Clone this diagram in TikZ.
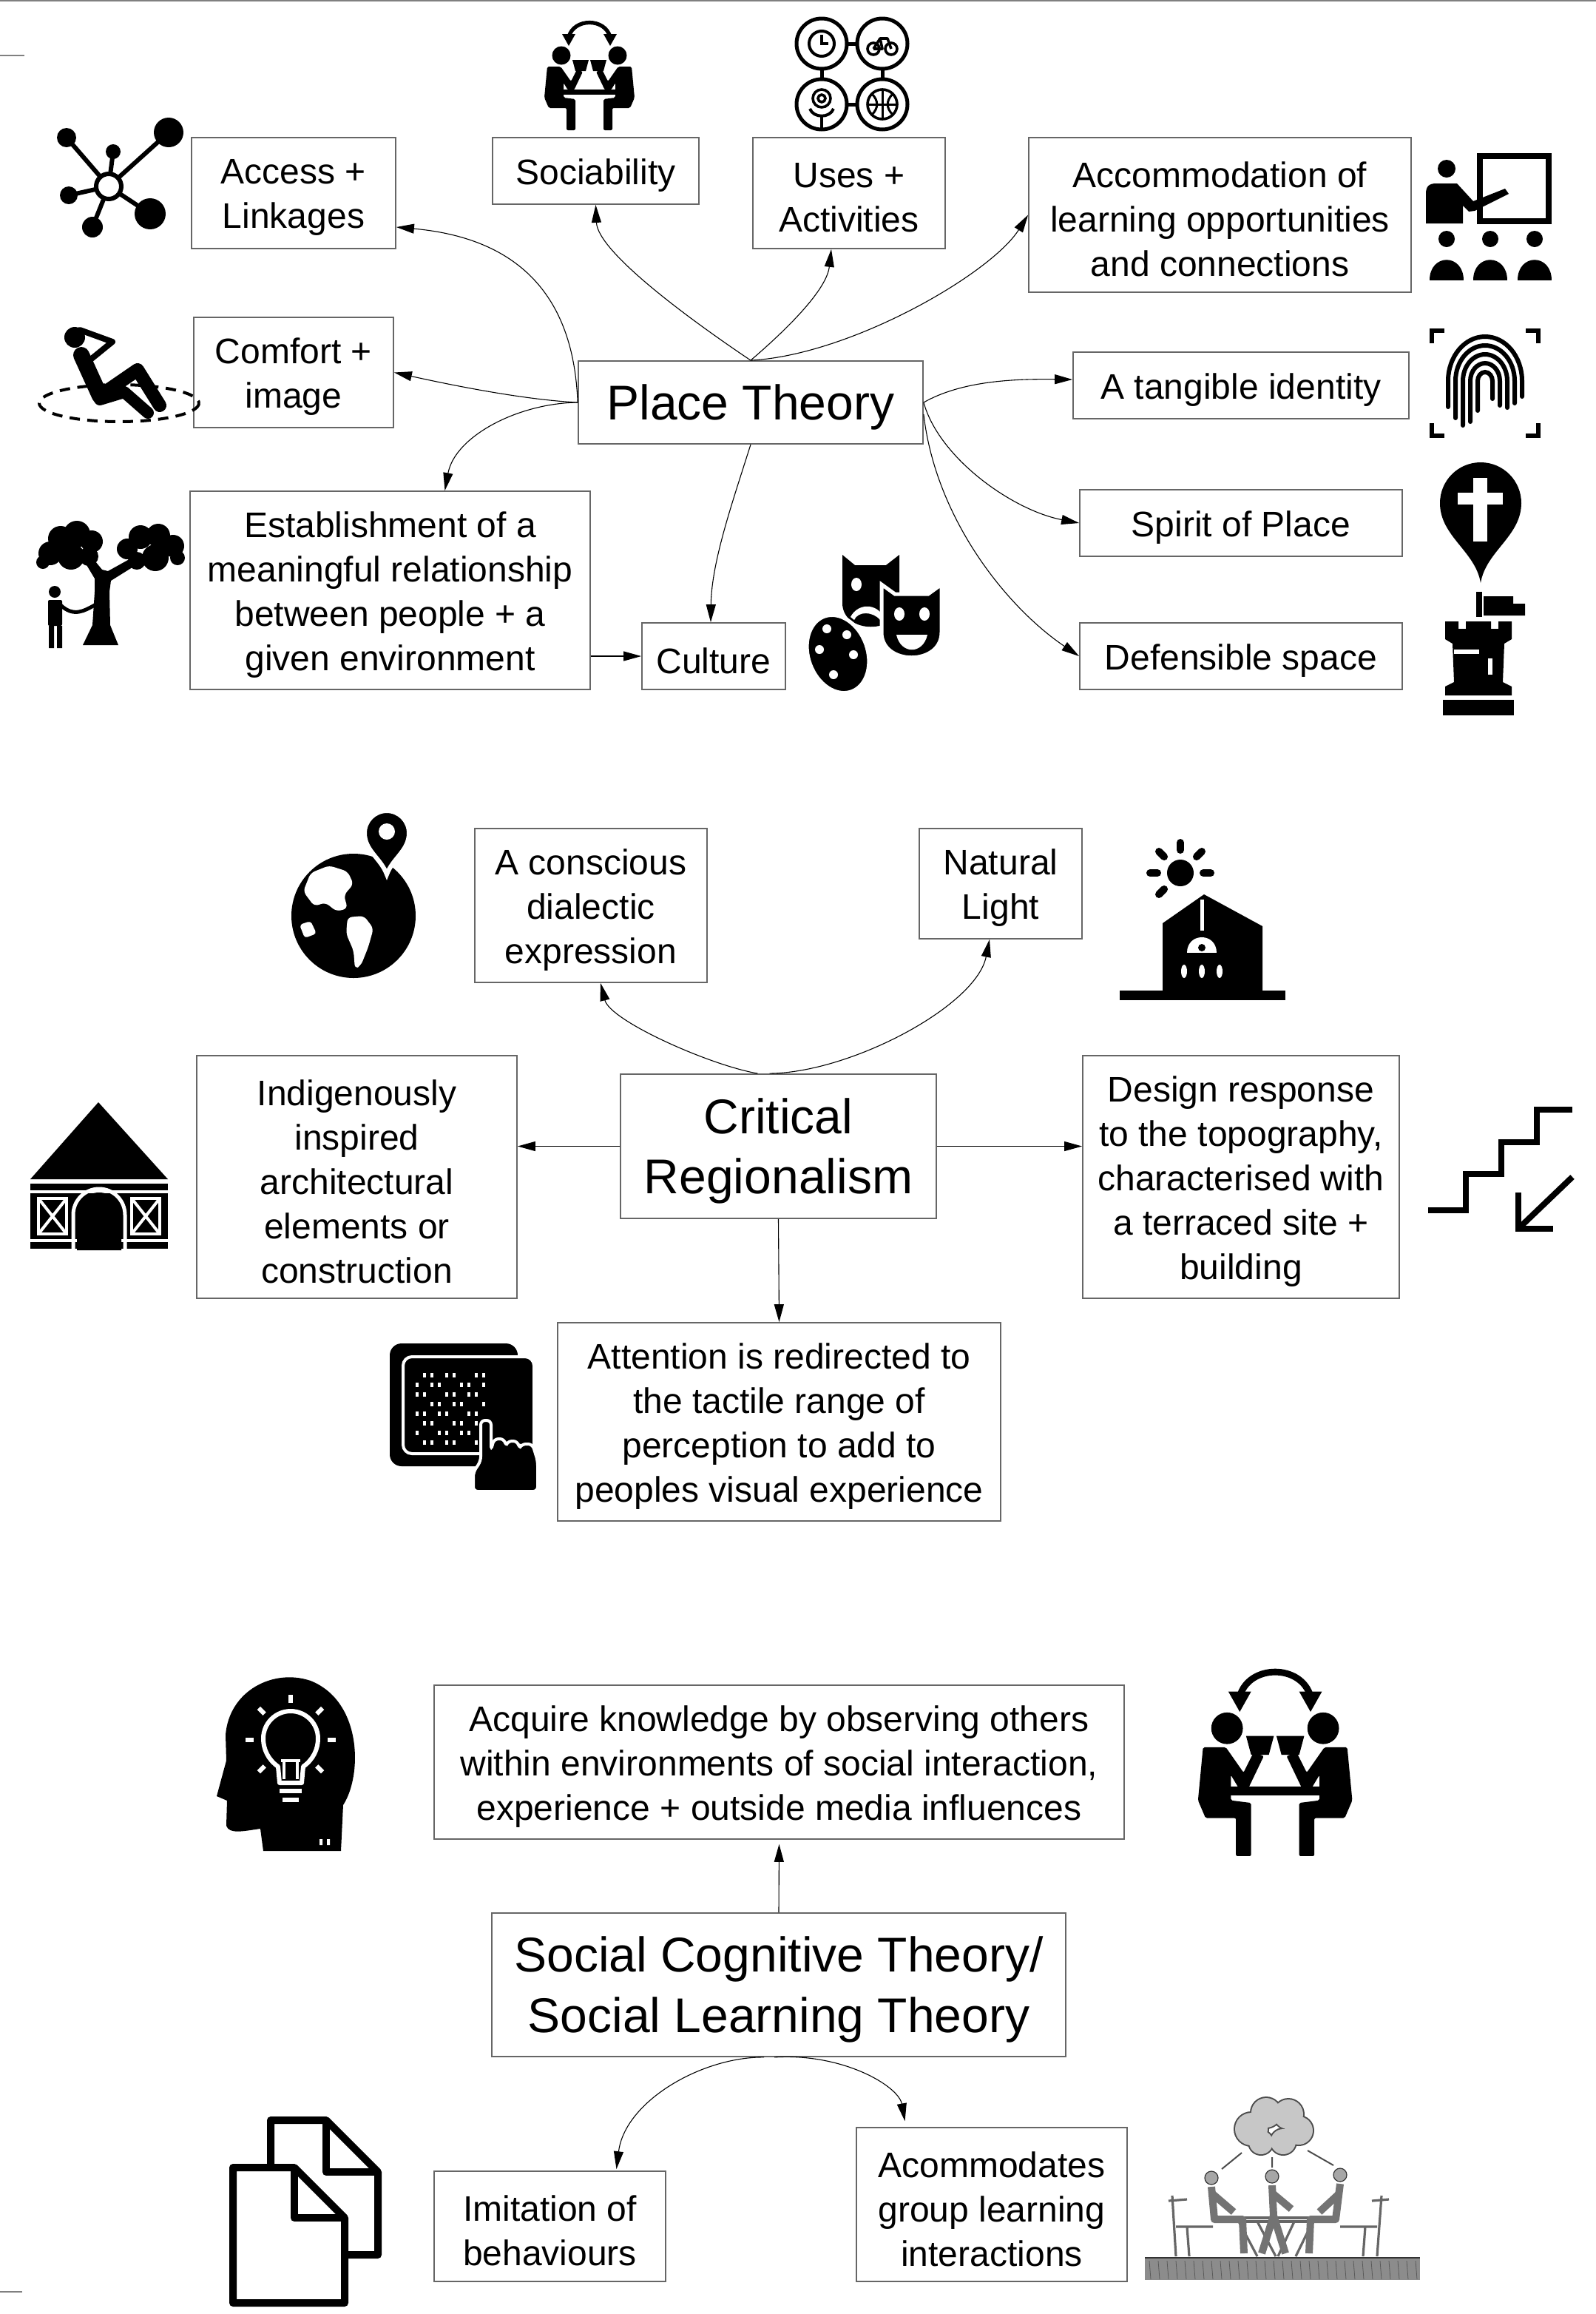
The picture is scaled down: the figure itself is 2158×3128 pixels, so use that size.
\documentclass[tikz,border=0pt]{standalone}
\usepackage{fontspec}
\setmainfont{Liberation Sans}
\usetikzlibrary{arrows.meta,calc}

% box from its corners (in px): [style] name, x1, y1, x2, y2, text
\newcommand\mkbox[7][box]{%
  \node[#1, minimum width={(#5-#3)*0.5pt}, minimum height={(#6-#4)*0.5pt}]
    (#2) at ({(#3+#5)/2},{(#4+#6)/2}) {};
  \node[#1, draw=none, fill=none, minimum width=0pt, minimum height=0pt]
    at ([yshift=-3pt]#2.center) {#7};}

% one seated person holding a cup (faces right)
\newcommand\sociperson{%
  \fill[rounded corners=1pt] (8,66) -- (26,66) -- (40,86) -- (48,70) -- (56,73) -- (44,98)
    -- (36,98) -- (30,88) -- (30,108) -- (46,110) -- (46,152) -- (34,152) -- (34,122)
    -- (10,122) -- (4,108) -- cycle;
  \fill (42,57) -- (64,57) -- (60,72) -- (46,72) -- cycle;}

% two people at a table with a swap arrow: x, y, scale
\newcommand\sociable[3]{%
  \begin{scope}[shift={(#1,#2)}, scale=#3]
    \draw[line width={#3*2.6pt}] (37,26) .. controls (44,0) and (86,0) .. (93,26);
    \fill (28,22) -- (46,22) -- (37,38) -- cycle;
    \fill (84,22) -- (102,22) -- (93,38) -- cycle;
    \fill (27,51) circle (12.5);
    \fill (103,51) circle (12.5);
    \fill (30,97) rectangle (100,104);
    \sociperson
    \begin{scope}[shift={(130,0)}, xscale=-1]\sociperson\end{scope}
  \end{scope}}

\begin{document}
\begin{tikzpicture}[x=0.5pt, y=-0.5pt,
  box/.style={draw=black!60, line width=0.9pt, fill=white, align=center,
    inner sep=0pt, font=\fontsize{24}{30}\selectfont},
  title/.style={box, font=\fontsize{33}{40.5}\selectfont},
  conn/.style={line width=0.55pt, -{Triangle[length=12pt,width=6.5pt]}},
  every path/.append style={line cap=butt}]

\useasboundingbox (0,0) rectangle (2158,3128);
\fill[white] (0,0) rectangle (2158,3128);
\draw[black!50, line width=0.8pt] (0,1) -- (2158,1);
\draw[black!50, line width=0.6pt] (0,75) -- (33,75);
\draw[black!50, line width=0.6pt] (0,3098) -- (30,3098);

% ---------------- Place Theory ----------------
\mkbox{acc}{259}{186}{535}{336}{Access +\\Linkages}
\mkbox{soc}{666}{186}{945}{276}{Sociability}
\mkbox{uses}{1018}{186}{1278}{336}{Uses +\\Activities}
\mkbox{accom}{1391}{186}{1908}{395}{Accommodation of\\learning opportunities\\and connections}
\mkbox{comf}{262}{429}{532}{578}{Comfort +\\image}
\mkbox[title]{pt}{782}{488}{1248}{600}{Place Theory}
\mkbox{tang}{1451}{476}{1905}{566}{A tangible identity}
\mkbox{spirit}{1460}{662}{1896}{752}{Spirit of Place}
\mkbox{def}{1460}{842}{1896}{932}{Defensible space}
\mkbox{est}{257}{664}{798}{932}{Establishment of a\\meaningful relationship\\between people + a\\given environment}
\mkbox{cult}{868}{842}{1062}{932}{Culture}

\draw[conn] (pt.west) .. controls (775,380) and (680,320) .. ([yshift=-23pt]acc.east);
\draw[conn] (pt.west) .. controls (700,540) and (590,516) .. (comf.east);
\draw[conn] (pt.west) .. controls (700,545) and (615,590) .. ([xshift=37pt]est.north);
\draw[conn] (pt.south) .. controls (990,680) and (962,760) .. ([xshift=-2pt]cult.north);
\draw[conn] (est.east |- cult.west) -- (cult.west);
\draw[conn] (pt.north) .. controls (930,430) and (808,340) .. (soc.south);
\draw[conn] (pt.north) .. controls (1070,440) and (1118,390) .. ([xshift=-12pt]uses.south);
\draw[conn] (pt.north) .. controls (1150,480) and (1340,370) .. (accom.west);
\draw[conn] (pt.east) .. controls (1300,515) and (1370,512) .. ([yshift=4pt]tang.west);
\draw[conn] (pt.east) .. controls (1270,620) and (1370,690) .. (spirit.west);
\draw[conn] ([yshift=-8pt]pt.east) .. controls (1265,700) and (1360,820) .. (def.west);

% network hub
\foreach \x/\y/\r in {90/186/13, 153/205/10, 228/179/20, 93/264/12, 203/289/21, 125/307/14}{
  \draw[line width=3pt] (147,252) -- (\x,\y);
  \fill (\x,\y) circle (\r);}
\filldraw[fill=white, line width=3pt] (147,252) circle (17);

% people at a table
\sociable{732}{24}{1}

% four activities
\foreach \x/\y in {1111/59, 1193/59, 1111/141, 1193/141}
  \draw[line width=2.5pt] (\x,\y) circle (34);
\draw[line width=2.5pt] (1145,59) -- (1159,59) (1145,141) -- (1159,141)
  (1111,93) -- (1111,107) (1193,93) -- (1193,107);
\draw[line width=2pt] (1111,59) circle (17);
\draw[line width=2pt] (1111,47) -- (1111,59) -- (1120,59);
\draw[line width=1.8pt] (1181,66) circle (8) (1205,66) circle (8);
\draw[line width=1.8pt, line join=round] (1181,66) -- (1190,52) -- (1200,52) -- (1205,66)
  (1190,52) -- (1193,66) -- (1181,66);
\draw[line width=1.8pt] (1111,133) circle (12) (1111,133) circle (5);
\draw[line width=2pt] (1095,147) .. controls (1100,160) and (1122,160) .. (1127,147);
\draw[line width=2pt] (1111,157) -- (1111,173);
\draw[line width=1.8pt] (1193,141) circle (20);
\draw[line width=1.5pt] (1173,141) -- (1213,141) (1193,121) -- (1193,161);
\draw[line width=1.5pt] (1179,127) .. controls (1188,136) and (1188,146) .. (1179,155)
  (1207,127) .. controls (1198,136) and (1198,146) .. (1207,155);

% teacher and students
\draw[line width=4pt] (2001,211) rectangle (2094,299);
\fill (1956,228) circle (12);
\fill (1928,302) -- (1928,262) .. controls (1928,252) and (1932,248) .. (1942,248) -- (1970,248)
  -- (1992,272) -- (2035,255) -- (2040,262) -- (1994,285) -- (1986,286) -- (1978,278)
  -- (1978,302) -- cycle;
\foreach \sx in {1956,2015,2075}{
  \fill (\sx,323) circle (11);
  \fill (\sx-23,379) .. controls (\sx-23,342) and (\sx+23,342) .. (\sx+23,379) -- cycle;}

% reclining person
\draw[line width=2pt, dash pattern=on 7pt off 5pt] (161,545) ellipse [x radius=108, y radius=25];
\fill (101,456) circle (14);
\draw[line width=4pt, line join=round, line cap=round] (108,446) -- (152,462) -- (120,488);
\draw[line width=11pt, line cap=round] (110,480) -- (135,535);
\draw[line width=9pt, line cap=round, line join=round] (135,535) -- (186,500) -- (216,548);
\draw[line width=8pt, line cap=round, line join=round] (135,540) -- (168,530) -- (200,558);

% tree and child
\foreach \x/\y/\r in {68/748/16, 82/728/17, 104/722/18, 124/732/15, 96/752/18, 120/752/13, 58/760/9,
  172/742/14, 190/726/16, 214/724/16, 234/738/15, 240/754/10, 210/754/18, 185/758/12}
  \fill (\x,\y) circle (\r);
\fill (110,752) -- (128,782) -- (128,800) -- (125,845) -- (112,872) -- (160,872) -- (149,845)
  -- (148,800) -- (150,785) -- (190,760) -- (182,752) -- (146,772) -- (138,770) -- (120,748) -- cycle;
\fill (74,800) circle (8);
\fill[rounded corners=1pt] (65,811) rectangle (84,846);
\fill (66,846) rectangle (73,876) (77,846) rectangle (84,876);
\draw[line width=2.5pt] (82,818) .. controls (100,835) and (115,825) .. (128,818);

% fingerprint
\draw[line width=3pt] (1936,464) -- (1936,447) -- (1953,447) (2063,447) -- (2080,447) -- (2080,464)
  (1936,572) -- (1936,589) -- (1953,589) (2063,589) -- (2080,589) -- (2080,572);
\foreach \r/\l in {10/40, 20/55, 30/60, 40/50, 50/35}
  \draw[line width=3pt, line cap=round] (2008-\r,515+\l) -- (2008-\r,515)
    arc[start angle=180, end angle=360, x radius=\r, y radius=1.2*\r] -- (2008+\r,515+0.6*\l);

% map pin with cross
\fill (2002,788) .. controls (1995,745) and (1947,725) .. (1947,680)
  arc[start angle=180, end angle=360, radius=55] .. controls (2057,725) and (2009,745) .. (2002,788) -- cycle;
\fill[white] (1992,646) rectangle (2011,732);
\fill[white] (1971,666) rectangle (2032,682);

% rook with flag
\fill (1996,800) rectangle (2004,834);
\fill (2006,806) -- (2046,806) -- (2046,816) -- (2062,816) -- (2062,832) -- (2006,832) -- cycle;
\fill (1954,840) -- (1972,840) -- (1972,850) -- (1982,850) -- (1982,840) -- (2016,840) -- (2016,850)
  -- (2026,850) -- (2026,840) -- (2044,840) -- (2044,864) -- (2034,870) -- (2032,922) -- (2044,928)
  -- (2044,940) -- (1954,940) -- (1954,928) -- (1966,922) -- (1964,870) -- (1954,864) -- cycle;
\fill (1951,946) rectangle (2047,967);
\fill[white] (1966,878) rectangle (2000,884);
\fill[white] (2012,890) rectangle (2018,912);

% masks and palette
\fill (1139,750) -- (1156,764) -- (1198,764) -- (1216,750) -- (1216,815)
  .. controls (1216,858) and (1139,858) .. (1139,815) -- cycle;
\fill[white] (1158,790) ellipse [x radius=7, y radius=9];
\fill[white] (1150,834) .. controls (1160,815) and (1185,815) .. (1195,834) -- (1190,838)
  .. controls (1180,826) and (1160,826) .. (1155,838) -- cycle;
\filldraw[draw=white, line width=2.5pt] (1192,790) -- (1210,803) -- (1255,803) -- (1273,790)
  -- (1273,855) .. controls (1273,900) and (1192,900) .. (1192,855) -- cycle;
\fill[white] (1216,830) ellipse [x radius=7, y radius=9];
\fill[white] (1250,830) ellipse [x radius=7, y radius=9];
\fill[white] (1212,858) .. controls (1218,885) and (1248,885) .. (1254,858) -- cycle;
\filldraw[draw=white, line width=2.5pt, rotate around={20:(1133,884)}]
  (1133,884) ellipse [x radius=40, y radius=54];
\foreach \x/\y in {1118/850, 1145/858, 1154/885, 1108/878, 1127/912}
  \fill[white] (\x,\y) circle (6);

% ---------------- Critical Regionalism ----------------
\mkbox{consc}{642}{1120}{956}{1328}{A conscious\\dialectic\\expression}
\mkbox{nat}{1243}{1120}{1463}{1269}{Natural\\Light}
\mkbox[title]{cr}{839}{1452}{1266}{1647}{Critical\\Regionalism}
\mkbox{indig}{266}{1427}{699}{1755}{Indigenously\\inspired\\architectural\\elements or\\construction}
\mkbox{design}{1464}{1427}{1892}{1755}{Design response\\to the topography,\\characterised with\\a terraced site +\\building}
\mkbox{attn}{754}{1788}{1353}{2056}{Attention is redirected to\\the tactile range of\\perception to add to\\peoples visual experience}

\draw[conn] ([xshift=-14pt]cr.north) .. controls (960,1440) and (825,1380) .. ([xshift=6.5pt]consc.south);
\draw[conn] ([xshift=-6pt]cr.north) .. controls (1150,1450) and (1320,1360) .. ([xshift=-7.5pt]nat.south);
\draw[conn] (cr.west) -- (cr.west -| indig.east);
\draw[conn] (cr.east) -- (cr.east -| design.west);
\draw[conn] (cr.south) -- (attn.north);

% globe with pin
\fill (478,1238) circle (84);
\fill[white, rounded corners=3pt] (420,1180) -- (445,1170) -- (470,1178) -- (478,1195) -- (465,1210)
  -- (470,1228) -- (455,1232) -- (440,1220) -- (425,1225) -- (410,1205) -- cycle;
\fill[white, rounded corners=3pt] (470,1240) -- (492,1238) -- (505,1255) -- (498,1280) -- (488,1305)
  -- (480,1310) -- (478,1285) -- (468,1262) -- cycle;
\fill[white, rounded corners=2pt] (405,1250) -- (420,1245) -- (428,1262) -- (412,1268) -- cycle;
\filldraw[draw=white, line width=3pt] (523,1182) .. controls (515,1160) and (493,1150) .. (493,1126)
  arc[start angle=180, end angle=360, radius=30] .. controls (553,1150) and (531,1160) .. (523,1182) -- cycle;
\fill[white] (523,1124) circle (11);

% sun over a house
\fill (1596,1180) circle (18);
\foreach \a in {270,225,315,180,0,135}
  \draw[line width=5pt, line cap=round] ($(1596,1180)+(\a:31)$) -- ($(1596,1180)+(\a:41)$);
\fill (1572,1339) -- (1572,1248) -- (1628,1209) -- (1707,1252) -- (1707,1339) -- cycle;
\draw[white, line width=2.5pt] (1625,1216) -- (1625,1258);
\fill[white] (1605,1288) .. controls (1605,1260) and (1645,1260) .. (1645,1288) -- cycle;
\fill (1625,1281) circle (5);
\foreach \x in {1601,1625,1649} \fill[white] (\x,1313) ellipse [x radius=4, y radius=9];
\fill (1514,1339) rectangle (1738,1352);

% hut
\fill (133,1490) -- (227,1594) -- (41,1594) -- cycle;
\fill (41,1600) rectangle (227,1688);
\draw[white, line width=2pt] (41,1611) -- (227,1611) (41,1677) -- (227,1677);
\foreach \x in {52,178}{
  \draw[white, line width=2pt] (\x,1620) rectangle (\x+38,1668);
  \draw[white, line width=2pt] (\x,1620) -- (\x+38,1668) (\x,1668) -- (\x+38,1620);}
\fill (104,1690) -- (104,1642) arc[start angle=180, end angle=360, radius=30] -- (164,1690) -- cycle;
\draw[white, line width=2.5pt] (99,1688) -- (99,1642) arc[start angle=180, end angle=360, radius=35] -- (169,1688);

% terraced steps with arrow
\draw[line width=4pt] (1931,1636) -- (1982,1636) -- (1982,1587) -- (2030,1587) -- (2030,1544)
  -- (2078,1544) -- (2078,1500) -- (2126,1500);
\draw[line width=4pt] (2126,1591) -- (2055,1659);
\draw[line width=4pt] (2053,1612) -- (2053,1661) -- (2100,1661);

% tactile tablet
\fill[rounded corners=8pt] (527,1816) rectangle (700,1982);
\filldraw[draw=white, line width=2pt, rounded corners=6pt] (545,1834) rectangle (722,1965);
\foreach \i in {0,...,7}{
  \foreach \j in {0,...,9}{
    \pgfmathtruncatemacro\k{mod(\i*3+\j*5,7)}
    \ifnum\k>2 \fill[white] (562+10*\j,1856+13*\i) rectangle (566+10*\j,1862+13*\i); \fi}}
\filldraw[draw=white, line width=2pt, rounded corners=3pt] (640,2016) -- (640,1990) -- (650,1975)
  -- (650,1920) -- (664,1920) -- (664,1960) -- (668,1945) -- (682,1945) -- (684,1955) -- (686,1948)
  -- (700,1948) -- (702,1958) -- (705,1952) -- (720,1952) -- (727,1975) -- (727,2016) -- cycle;

% ---------------- Social Cognitive Theory ----------------
\mkbox{acq}{587}{2278}{1520}{2486}{Acquire knowledge by observing others\\within environments of social interaction,\\experience + outside media influences}
\mkbox[title, font=\fontsize{33}{41}\selectfont]{sct}{665}{2586}{1441}{2780}{Social Cognitive Theory/\\Social Learning Theory}
\mkbox{imit}{587}{2935}{900}{3084}{Imitation of\\behaviours}
\mkbox{acomm}{1158}{2876}{1524}{3084}{Acommodates\\group learning\\interactions}

\draw[conn, shorten >=3pt] (sct.north) -- (acq.south);
\draw[conn] ([xshift=-10pt]sct.south) .. controls (950,2780) and (845,2840) .. ([xshift=45pt,yshift=1pt]imit.north);
\draw[conn, shorten >=4pt] ([xshift=-3pt]sct.south) .. controls (1140,2775) and (1215,2820) .. ([xshift=-58pt]acomm.north);

% head with light bulb
\fill (461,2502) -- (464,2440) .. controls (490,2400) and (490,2300) .. (420,2272)
  .. controls (370,2255) and (310,2285) .. (305,2345) -- (306,2380) -- (293,2428) -- (307,2434)
  -- (306,2468) .. controls (310,2480) and (330,2475) .. (352,2472) -- (356,2502) -- cycle;
\draw[white, line width=3pt, line join=round] (378,2410) -- (376,2388) .. controls (362,2378) and (356,2364) .. (356,2350)
  arc[start angle=180, end angle=360, radius=37] .. controls (430,2364) and (424,2378) .. (410,2388) -- (408,2410) -- cycle;
\fill[white] (378,2418) rectangle (408,2424);
\fill[white] (382,2430) rectangle (404,2436);
\draw[white, line width=2pt] (384,2405) -- (384,2380) (402,2405) -- (402,2380) (380,2380) -- (406,2380);
\foreach \a in {180,225,270,315,0,135,45}
  \draw[white, line width=3pt] ($(393,2352)+(\a:50)$) -- ($(393,2352)+(\a:61)$);
\fill[white] (432,2486) rectangle (436,2494) (442,2486) rectangle (446,2494);

% people at a table, large
\sociable{1613}{2249}{1.71}

% two documents
\filldraw[fill=white, line width=5pt, line join=round] (366,2866) -- (441,2866) -- (511,2936)
  -- (511,3048) -- (366,3048) -- cycle;
\draw[line width=5pt, line join=round] (441,2866) -- (441,2936) -- (511,2936);
\filldraw[fill=white, line width=5pt, line join=round] (315,2930) -- (398,2930) -- (466,2998)
  -- (466,3113) -- (315,3113) -- cycle;
\draw[line width=5pt, line join=round] (398,2930) -- (398,2998) -- (466,2998);

% sketch: group around a table under a thought cloud
\fill[black!45] (1548,3052) rectangle (1920,3082);
\foreach \x in {1554,1566,...,1914}
  \draw[black!65, line width=0.4pt] (\x,3056) -- (\x+2,3081);
\draw[black!80, line width=1pt] (1548,3052) -- (1920,3052);
\foreach \x/\y/\r in {1692/2878/22, 1712/2856/20, 1742/2858/20, 1756/2880/19, 1735/2895/17, 1705/2896/16}
  \fill[black!70] (\x,\y) circle (\r+2);
\foreach \x/\y/\r in {1692/2878/22, 1712/2856/20, 1742/2858/20, 1756/2880/19, 1735/2895/17, 1705/2896/16}
  \fill[black!22] (\x,\y) circle (\r);
\draw[black!70, line width=1pt] (1679,2910) -- (1652,2932) (1720,2916) -- (1720,2930) (1768,2907) -- (1803,2927);
\begin{scope}[black!60, line width=1.6pt, line cap=round, line join=round]
  \draw (1585,2968) -- (1590,3050) (1580,2975) -- (1605,2973) (1590,3010) -- (1640,3010) (1605,3010) -- (1608,3050);
  \draw (1868,2968) -- (1862,3050) (1855,2975) -- (1878,2973) (1862,3010) -- (1812,3010) (1846,3010) -- (1843,3050);
  \draw (1650,2998) -- (1800,2998) (1655,3003) -- (1795,3003);
  \draw (1675,3003) -- (1700,3050) (1775,3003) -- (1752,3050) (1700,3003) -- (1725,3050) (1750,3003) -- (1728,3050);
\end{scope}
\begin{scope}[draw=black!80, fill=black!35, line width=0.6pt]
  \filldraw (1638,2944) circle (9);
  \filldraw (1720,2942) circle (9);
  \filldraw (1812,2940) circle (9);
\end{scope}
\begin{scope}[black!55, line width=5pt, line cap=round, line join=round]
  \draw (1638,2956) -- (1642,3000) -- (1680,3000) -- (1682,3046);
  \draw (1640,2966) -- (1668,2990);
  \draw (1720,2954) -- (1722,2995) -- (1706,3046) (1722,2995) -- (1738,3046);
  \draw (1722,2966) -- (1746,2986);
  \draw (1812,2952) -- (1806,3000) -- (1772,3000) -- (1770,3046);
  \draw (1810,2966) -- (1784,2990);
\end{scope}

\end{tikzpicture}
\end{document}
